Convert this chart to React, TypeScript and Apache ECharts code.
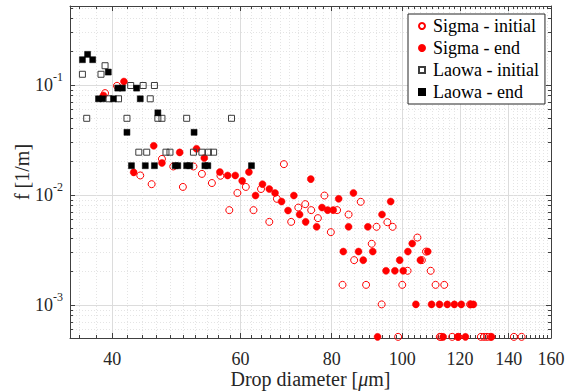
import React, { useEffect, useRef } from 'react';
import * as echarts from 'echarts';

// Axis ticks and ranges
const xMajorTicks = [40, 60, 80, 100, 120, 140, 160];
const yMajorTicks = [0.001, 0.01, 0.1];
const xRange = [35, 160];
const yRange = [0.0005, 0.52];

// Sigma - initial (drop diameter in µm, f in 1/m)
const sigmaInitialD = [39.1, 40.6, 43.7, 45.3, 46.8, 48.5, 50.0, 51.7, 53.1, 54.8, 56.3, 57.9, 59.4, 61.0, 62.5, 64.0, 65.7, 67.3, 68.8, 70.4, 72.0, 73.6, 75.0, 76.6, 78.2, 79.8, 81.4, 82.8, 84.4, 85.9, 87.7, 89.2, 90.8, 92.2, 93.7, 95.4, 97.0, 98.7, 100.0, 101.7, 104.9, 106.4, 107.8, 109.4, 111.1, 112.6, 113.1, 114.2, 117.1, 119.4, 123.9, 128.2, 129.5, 130.7, 132.1, 142.3, 145.8];
const sigmaInitialF = [0.084, 0.0979, 0.015, 0.0125, 0.0212, 0.0181, 0.0118, 0.0181, 0.0155, 0.0128, 0.0149, 0.00726, 0.0104, 0.0118, 0.00726, 0.0113, 0.00568, 0.0092, 0.019, 0.00568, 0.00766, 0.00823, 0.00726, 0.00614, 0.00985, 0.00458, 0.00726, 0.00152, 0.00662, 0.00255, 0.00864, 0.00152, 0.00359, 0.00512, 0.00101, 0.00564, 0.00512, 0.000512, 0.00152, 0.00204, 0.00409, 0.00255, 0.00305, 0.00204, 0.00152, 0.000512, 0.000512, 0.00152, 0.000512, 0.000512, 0.00101, 0.000512, 0.000512, 0.000512, 0.000512, 0.000512, 0.000512];

// Sigma - end
const sigmaEndD = [38.9, 41.5, 42.8, 45.6, 46.8, 49.5, 52.2, 53.5, 56.2, 57.6, 59.0, 60.3, 61.6, 62.9, 64.3, 65.7, 66.9, 68.3, 69.7, 71.0, 72.3, 73.7, 74.9, 76.3, 77.6, 79.0, 80.4, 81.8, 83.0, 84.4, 85.7, 87.1, 88.4, 89.7, 91.1, 92.5, 93.8, 95.0, 96.4, 97.7, 99.2, 100.3, 101.8, 103.2, 104.4, 105.9, 108.4, 109.7, 112.5, 113.8, 115.3, 117.9, 119.2, 120.5, 122.1, 124.2, 125.2, 132.6];
const sigmaEndF = [0.08, 0.107, 0.016, 0.0279, 0.0195, 0.0243, 0.0262, 0.0216, 0.0161, 0.015, 0.015, 0.0134, 0.0161, 0.00985, 0.0125, 0.0113, 0.0104, 0.00869, 0.0072, 0.00985, 0.00662, 0.00568, 0.0139, 0.00512, 0.00766, 0.00726, 0.00726, 0.0092, 0.00305, 0.00512, 0.0104, 0.00305, 0.00255, 0.00512, 0.00305, 0.000512, 0.00662, 0.00204, 0.00869, 0.00204, 0.00255, 0.00204, 0.00305, 0.00361, 0.00101, 0.00255, 0.00305, 0.00101, 0.00101, 0.000512, 0.00101, 0.00101, 0.000512, 0.00101, 0.000512, 0.00101, 0.00101, 0.000512];

// Laowa - initial
const laowaInitialD = [39.1, 36.4, 38.6, 42.4, 44.1, 45.7, 39.6, 40.8, 45.1, 36.9, 41.9, 46.2, 46.8, 50.6, 58.3, 43.5, 44.6, 47.4, 48.0, 51.7, 53.1, 54.2, 55.1];
const laowaInitialF = [0.149, 0.1246, 0.1246, 0.0985, 0.0985, 0.0985, 0.0746, 0.0746, 0.0746, 0.0496, 0.0496, 0.0496, 0.0496, 0.0496, 0.0496, 0.0244, 0.0244, 0.0244, 0.0244, 0.0244, 0.0244, 0.0244, 0.0244];

// Laowa - end
const laowaEndD = [36.4, 37.0, 37.6, 39.5, 38.3, 38.8, 40.15, 40.7, 41.3, 43.2, 43.7, 46.2, 41.9, 51.8, 42.5, 44.4, 45.7, 48.8, 49.2, 50.6, 51.1, 53.6, 54.1, 62.1];
const laowaEndF = [0.169, 0.189, 0.169, 0.1305, 0.0746, 0.0746, 0.0746, 0.0933, 0.0933, 0.0933, 0.0746, 0.0556, 0.037, 0.037, 0.0184, 0.0184, 0.0184, 0.0184, 0.0184, 0.0184, 0.0184, 0.0184, 0.0184, 0.0184];

const seriesNames = ['Sigma - initial', 'Sigma - end', 'Laowa - initial', 'Laowa - end'];

const FONT = '"Liberation Serif", "Times New Roman", serif';
const AXIS_COLOR = '#404040';
const lg = (v: number) => Math.log10(v);

export default function App() {
  const ref = useRef<HTMLDivElement>(null);

  useEffect(() => {
    if (!ref.current) return;
    const chart = echarts.init(ref.current, null, { renderer: 'svg' });

    const xMin = lg(xRange[0]);
    const xMax = lg(xRange[1]);
    const yMin = lg(yRange[0]);
    const yMax = lg(yRange[1]);

    const xMajor = xMajorTicks.map(lg);
    const yMajor = yMajorTicks.map(lg);
    const xMinor: number[] = [];
    for (let v = 36; v < xRange[1]; v += 2) {
      if (!xMajorTicks.includes(v)) xMinor.push(lg(v));
    }
    const yMinor: number[] = [];
    [1e-4, 1e-3, 1e-2, 1e-1].forEach((dec) => {
      for (let k = 2; k <= 9; k++) {
        const v = k * dec;
        if (v >= yRange[0] && v <= yRange[1]) yMinor.push(lg(v));
      }
    });

    const mkAxis = (position: string, min: number, max: number, ticks: number[], len: number, showLine: boolean, extra: any = {}) => ({
      type: 'value',
      position,
      min,
      max,
      axisLine: { show: showLine, onZero: false, lineStyle: { color: AXIS_COLOR, width: 1 } },
      axisTick: { show: true, inside: true, length: len, customValues: ticks, lineStyle: { color: AXIS_COLOR, width: 1 } },
      axisLabel: { show: false },
      splitLine: { show: false },
      ...extra,
    });

    const majorGrid = { show: true, lineStyle: { color: '#dcdcdc', width: 1 } };
    const minorGrid = { show: true, lineStyle: { color: '#e4e4e4', width: 1, type: [1, 2] } };

    const xAxis = [
      mkAxis('bottom', xMin, xMax, xMajor, 5, true, {
        axisLabel: {
          show: true,
          customValues: xMajor,
          formatter: (v: number) => String(Math.round(Math.pow(10, v))),
          fontFamily: FONT,
          fontSize: 18,
          lineHeight: 18,
          color: '#262626',
          margin: 12,
        },
        splitLine: majorGrid,
        name: 'Drop diameter [{i|μ}m]',
        nameLocation: 'middle',
        nameGap: 31,
        nameMoveOverlap: false,
        nameTextStyle: {
          fontFamily: FONT,
          fontSize: 20,
          lineHeight: 20,
          color: '#262626',
          rich: { i: { fontFamily: FONT, fontSize: 20, lineHeight: 20, fontStyle: 'italic', color: '#262626' } },
        },
      }),
      mkAxis('bottom', xMin, xMax, xMinor, 3, false, { splitLine: minorGrid }),
      mkAxis('top', xMin, xMax, xMajor, 5, true),
      mkAxis('top', xMin, xMax, xMinor, 3, false),
    ];

    const yAxis = [
      mkAxis('left', yMin, yMax, yMajor, 5, true, {
        axisLabel: {
          show: true,
          customValues: yMajor,
          formatter: (v: number) => `{b|10}{s|${Math.round(v)}}`,
          margin: 7,
          rich: {
            b: { fontFamily: FONT, fontSize: 18, color: '#262626', lineHeight: 18 },
            s: { fontFamily: FONT, fontSize: 12, color: '#262626', lineHeight: 12, padding: [0, 0, 16, 0] },
          },
        },
        splitLine: majorGrid,
        name: 'f [1/m]',
        nameLocation: 'middle',
        nameGap: 38,
        nameMoveOverlap: false,
        nameTextStyle: { fontFamily: FONT, fontSize: 20, color: '#262626' },
      }),
      mkAxis('left', yMin, yMax, yMinor, 3, false, { splitLine: minorGrid }),
      mkAxis('right', yMin, yMax, yMajor, 5, true),
      mkAxis('right', yMin, yMax, yMinor, 3, false),
    ];

    const toPts = (ds: number[], fs: number[]) => ds.map((d, i) => [lg(d), lg(fs[i])]);

    const base = {
      type: 'scatter',
      xAxisIndex: 0,
      yAxisIndex: 0,
      clip: false,
      silent: true,
      emphasis: { disabled: true },
    };

    const option = {
      animation: false,
      grid: { left: 70, right: 19, top: 6, bottom: 53, containLabel: false, outerBoundsMode: 'none' },
      xAxis,
      yAxis,
      legend: {
        orient: 'vertical',
        left: 408,
        top: 14,
        padding: [3, 6, 3, 10],
        itemGap: 4,
        itemWidth: 6,
        itemHeight: 6,
        backgroundColor: '#fff',
        borderColor: '#262626',
        borderWidth: 1,
        selectedMode: false,
        textStyle: { fontFamily: FONT, fontSize: 18, color: '#000', lineHeight: 18, padding: [0, 0, 0, 3] },
        data: seriesNames,
      },
      series: [
        {
          ...base,
          name: seriesNames[0],
          symbol: 'circle',
          symbolSize: 7,
          itemStyle: { color: 'rgba(255,0,0,0)', borderColor: '#ff0000', borderWidth: 1, opacity: 1 },
          data: toPts(sigmaInitialD, sigmaInitialF),
        },
        {
          ...base,
          name: seriesNames[1],
          symbol: 'circle',
          symbolSize: 7,
          itemStyle: { color: '#ff0000', borderColor: '#ff0000', borderWidth: 0.5, opacity: 1 },
          data: toPts(sigmaEndD, sigmaEndF),
        },
        {
          ...base,
          name: seriesNames[2],
          symbol: 'rect',
          symbolSize: 6,
          itemStyle: { color: 'rgba(0,0,0,0)', borderColor: '#3c3c3c', borderWidth: 1, opacity: 1 },
          data: toPts(laowaInitialD, laowaInitialF),
        },
        {
          ...base,
          name: seriesNames[3],
          symbol: 'rect',
          symbolSize: 6,
          itemStyle: { color: '#000', borderColor: '#000', borderWidth: 0.5, opacity: 1 },
          data: toPts(laowaEndD, laowaEndF),
        },
      ],
    };

    chart.setOption(option as any);
    return () => chart.dispose();
  }, []);

  return (
    <div
      ref={ref}
      style={{ position: 'fixed', left: 0, top: 0, width: 570, height: 391, background: '#fff' }}
    />
  );
}
